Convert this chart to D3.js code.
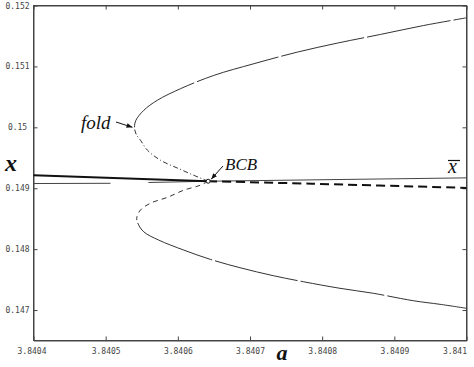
<!DOCTYPE html>
<html>
<head>
<meta charset="utf-8">
<script src="https://cdn.jsdelivr.net/npm/d3@7"></script>
<style>
  body { margin: 0; background: #fff; }
  svg { display: block; }
  .tick text { font-family: "DejaVu Sans Mono", monospace; font-size: 8px; fill: #444; }
</style>
</head>
<body>
<svg id="chart" width="474" height="367"></svg>
<script>
// tick values (a on x, x on y)
const aTicks = [3.8404, 3.8405, 3.8406, 3.8407, 3.8408, 3.8409, 3.841];
const xTicks = [0.147, 0.148, 0.149, 0.15, 0.151, 0.152];

// branches, [a, x]
const upperStable = [
  [3.84054, 0.15], [3.8405419, 0.150115], [3.8405528, 0.150279], [3.8405714, 0.150443],
  [3.8406037, 0.150634], [3.8406498, 0.150852], [3.8407053, 0.151044], [3.8407654, 0.151234],
  [3.8408208, 0.151382], [3.8408808, 0.151525], [3.8409408, 0.151672], [3.841, 0.151798]
];
const upperUnstable = [
  [3.84054, 0.15], [3.8405423, 0.149886], [3.8405483, 0.149787], [3.840558, 0.149623],
  [3.840576, 0.149459], [3.8406, 0.149328], [3.840622, 0.149213], [3.840642, 0.149115]
];
const lowerUnstable = [
  [3.840642, 0.149115], [3.840631, 0.149049], [3.840608, 0.148967], [3.840586, 0.148852],
  [3.840562, 0.148754], [3.840548, 0.148639], [3.840543, 0.148508]
];
const lowerStable = [
  [3.840543, 0.148508], [3.8405452, 0.14841], [3.8405528, 0.148284], [3.8405736, 0.148148],
  [3.8406083, 0.147984], [3.8406453, 0.147831], [3.8406861, 0.147695], [3.8407323, 0.147564],
  [3.8407739, 0.147465], [3.8408247, 0.147357], [3.8408709, 0.147275], [3.8409263, 0.147153],
  [3.8409633, 0.147094], [3.841, 0.147029]
];
// fixed point, stable before BCB and unstable after
const fixedStable = [[3.8404, 0.149213], [3.840642, 0.149115]];
const fixedUnstable = [[3.840642, 0.149115], [3.840786, 0.149074], [3.841, 0.149005]];
// x-bar line (has a gap on the left)
const xbarLeft = [[3.8404, 0.149077], [3.8405067, 0.149081]];
const xbarRight = [[3.8405593, 0.149094], [3.840642, 0.149115], [3.841, 0.14917]];
const bcb = [3.840642, 0.149115];
const fold = [3.84054, 0.15];
const lowerFold = [3.840543, 0.148508];

const svg = d3.select("#chart");
const W = 474, H = 367;
const mLeft = 33.5, mRight = 466.5, mTop = 5.5, mBottom = 340.5;

const x = d3.scaleLinear().domain([3.8404, 3.841]).range([mLeft, mRight]);
const y = d3.scaleLinear().domain([0.1465, 0.152]).range([mBottom, mTop]);

const fmtA = d => String(+d.toFixed(4));
const fmtX = d => String(+d.toFixed(3));

// frame + inward ticks on all sides
svg.append("g").attr("transform", `translate(0,${mBottom})`)
  .call(d3.axisBottom(x).tickValues(aTicks).tickFormat(fmtA).tickSizeInner(-4).tickSizeOuter(0).tickPadding(9))
  .call(g => g.selectAll("text").attr("dy", "0.55em"))
  .call(g => g.selectAll("text").filter((d, i) => i === 0).attr("x", -2))
  .call(g => g.selectAll("text").filter(d => d === 3.841).attr("text-anchor", "end").attr("x", 0));
svg.append("g").attr("transform", `translate(0,${mTop})`)
  .call(d3.axisTop(x).tickValues(aTicks).tickFormat("").tickSizeInner(-4).tickSizeOuter(0));
svg.append("g").attr("transform", `translate(${mLeft},0)`)
  .call(d3.axisLeft(y).tickValues(xTicks).tickFormat(fmtX).tickSizeInner(-4).tickSizeOuter(0))
  .call(g => g.selectAll("text").attr("text-anchor", "middle").attr("x", 17.5 - mLeft));
svg.append("g").attr("transform", `translate(${mRight},0)`)
  .call(d3.axisRight(y).tickValues(xTicks).tickFormat("").tickSizeInner(-4).tickSizeOuter(0));
svg.selectAll(".domain, .tick line").attr("stroke", "#444");

svg.append("rect")
  .attr("x", mLeft).attr("y", mTop).attr("width", mRight - mLeft).attr("height", mBottom - mTop)
  .attr("fill", "none").attr("stroke", "#444");

const line = d3.line().x(d => x(d[0])).y(d => y(d[1])).curve(d3.curveCatmullRom);
const straight = d3.line().x(d => x(d[0])).y(d => y(d[1]));

const defs = svg.append("defs");
function clip(id, y0, y1) {
  defs.append("clipPath").attr("id", id)
    .append("rect").attr("x", 0).attr("y", y0).attr("width", W).attr("height", y1 - y0);
  return `url(#${id})`;
}

function draw(data, gen, width, color, dash, clipUrl) {
  svg.append("path").datum(data).attr("d", gen)
    .attr("fill", "none").attr("stroke", color).attr("stroke-width", width)
    .attr("stroke-dasharray", dash || null)
    .attr("clip-path", clipUrl || null);
}

// each loop is drawn as one smooth curve, split at its fold into two line styles
const upperLoop = upperUnstable.slice().reverse().concat(upperStable.slice(1));
const lowerLoop = lowerUnstable.concat(lowerStable.slice(1));
draw(upperLoop, line, 1, "#333", "85,3", clip("upS", 0, y(fold[1])));
draw(upperLoop, line, 1, "#333", "5,2.5,1,2.5", clip("upU", y(fold[1]), H));
draw(lowerLoop, line, 1, "#333", "5,4", clip("loU", 0, y(lowerFold[1])));
draw(lowerLoop, line, 1, "#333", "85,3", clip("loS", y(lowerFold[1]), H));

draw(xbarLeft, straight, 1, "#444");
draw(xbarRight, straight, 1, "#444");
draw(fixedStable, straight, 2, "#111");
draw(fixedUnstable, line, 2, "#111", "9,5");

// arrow marker
defs.append("marker")
  .attr("id", "arr").attr("viewBox", "0 0 10 10").attr("refX", 10).attr("refY", 5)
  .attr("markerWidth", 6).attr("markerHeight", 6).attr("orient", "auto")
  .append("path").attr("d", "M0,1 L10,5 L0,9 Z").attr("fill", "#111");

svg.append("circle").attr("cx", x(bcb[0])).attr("cy", y(bcb[1])).attr("r", 2)
  .attr("fill", "#fff").attr("stroke", "#111");

// annotations
svg.append("text").attr("x", 81).attr("y", 129).text("fold")
  .attr("font-family", "Liberation Serif").attr("font-style", "italic").attr("font-size", 19).attr("fill", "#111");
svg.append("line").attr("x1", 116).attr("y1", 122).attr("x2", x(fold[0]) - 2).attr("y2", y(fold[1]))
  .attr("stroke", "#111").attr("marker-end", "url(#arr)");

svg.append("text").attr("x", 225).attr("y", 170).text("BCB")
  .attr("font-family", "Liberation Serif").attr("font-style", "italic").attr("font-size", 17).attr("fill", "#111");
svg.append("line").attr("x1", 223).attr("y1", 166).attr("x2", x(bcb[0]) + 3).attr("y2", y(bcb[1]) - 2)
  .attr("stroke", "#111").attr("marker-end", "url(#arr)");

svg.append("text").attr("x", 448).attr("y", 173).text("x")
  .attr("font-family", "Liberation Serif").attr("font-style", "italic").attr("font-size", 20).attr("fill", "#111");
svg.append("line").attr("x1", 448).attr("x2", 460).attr("y1", 160.5).attr("y2", 160.5)
  .attr("stroke", "#111").attr("stroke-width", 1.2);

// axis titles
svg.append("text").attr("x", 11).attr("y", 171).attr("text-anchor", "middle").text("x")
  .attr("font-family", "Liberation Serif").attr("font-style", "italic").attr("font-weight", "bold")
  .attr("font-size", 24).attr("fill", "#111");
svg.append("text").attr("x", 282).attr("y", 360).attr("text-anchor", "middle").text("a")
  .attr("font-family", "Liberation Serif").attr("font-style", "italic").attr("font-weight", "bold")
  .attr("font-size", 22).attr("fill", "#111");
</script>
</body>
</html>
